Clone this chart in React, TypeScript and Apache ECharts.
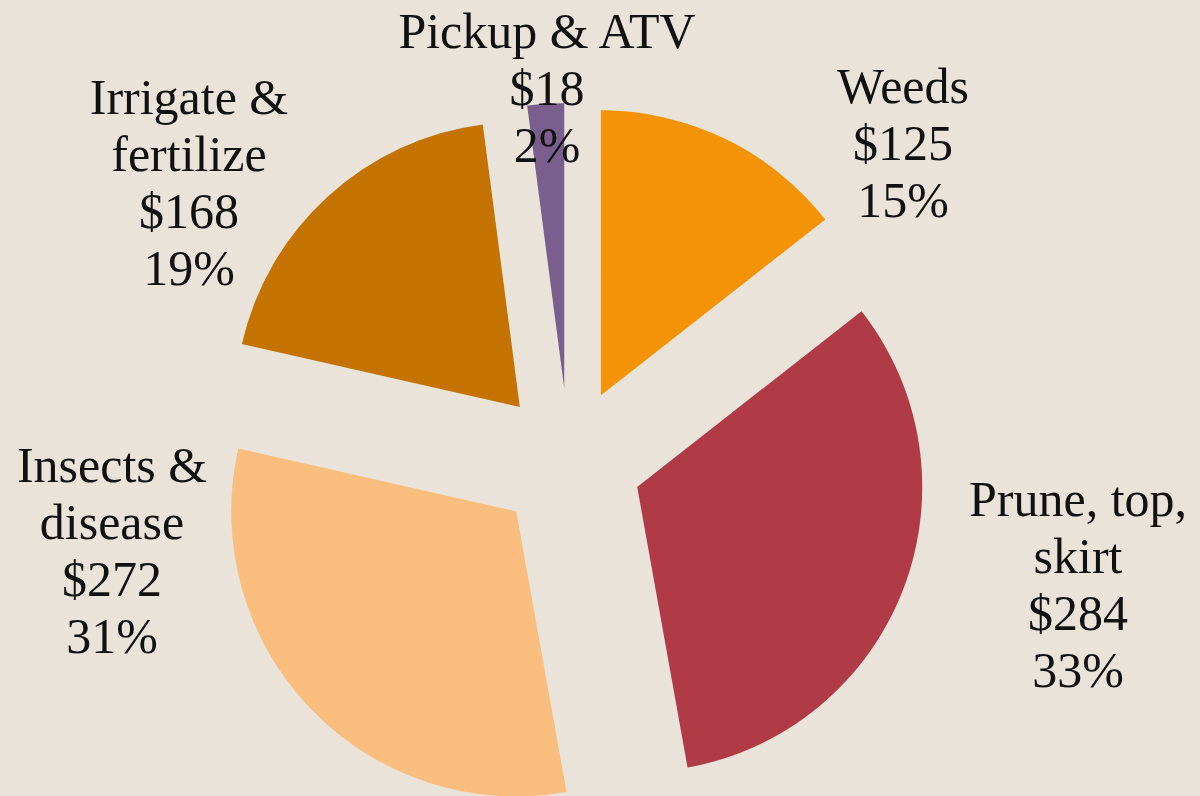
import React, { useEffect, useRef } from "react";
import * as echarts from "echarts";

const categories = ["Weeds", "Prune, top,\nskirt", "Insects &\ndisease", "Irrigate &\nfertilize", "Pickup & ATV"];
const costs = [125, 284, 272, 168, 18];
const percentLabels = ["15%", "33%", "31%", "19%", "2%"];
const colors = ["#F59306", "#B03A46", "#F9BE7D", "#C47200", "#7A5F8E"];
const labelCenters: [number, number][] = [
  [903, 143],
  [1078, 584],
  [112, 550],
  [189, 182],
  [547, 88],
];

export default function App() {
  const ref = useRef<HTMLDivElement>(null);
  useEffect(() => {
    if (!ref.current) return;
    const chart = echarts.init(ref.current, undefined, { renderer: "svg" });
    chart.setOption({
      animation: false,
      backgroundColor: "#E9E3DA",
      graphic: categories.map((name, i) => ({
        type: "text",
        x: labelCenters[i][0],
        y: labelCenters[i][1],
        z: 100,
        zlevel: 0,
        silent: true,
        style: {
          text: `${name}\n$${costs[i]}\n${percentLabels[i]}`,
          fill: "#111111",
          font: "50px 'Liberation Serif', serif",
          lineHeight: 57,
          align: "center",
          verticalAlign: "middle",
        },
      })),
      series: [
        {
          type: "pie",
          z: 2,
          center: [569, 461],
          radius: 285,
          startAngle: 90,
          clockwise: true,
          selectedMode: "multiple",
          selectedOffset: 73,
          emphasis: { disabled: true },
          label: { show: false },
          labelLine: { show: false },
          data: categories.map((name, i) => ({
            name,
            value: costs[i],
            selected: true,
            itemStyle: { color: colors[i] },
          })),
        },
      ],
    });
    return () => chart.dispose();
  }, []);
  return (
    <div
      ref={ref}
      style={{ position: "fixed", left: 0, top: 0, width: 1200, height: 796 }}
    />
  );
}
